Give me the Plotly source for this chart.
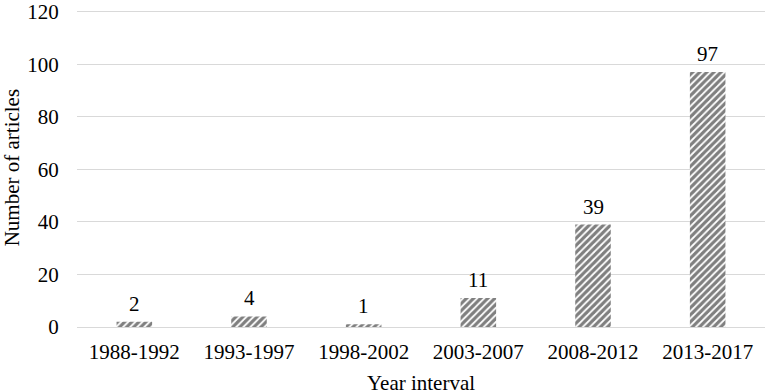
import plotly.graph_objects as go

categories = ["1988-1992", "1993-1997", "1998-2002", "2003-2007", "2008-2012", "2013-2017"]
articles = [2, 4, 1, 11, 39, 97]
y_ticks = [0, 20, 40, 60, 80, 100, 120]

FONT = "Liberation Serif, Times New Roman, serif"
FS = 21

fig = go.Figure()
fig.add_trace(go.Bar(
    x=categories,
    y=articles,
    width=0.31,
    marker=dict(
        color="white",
        line=dict(width=0),
        pattern=dict(shape="/", fgcolor="black", bgcolor="white", size=5, solidity=0.65),
    ),
))

annotations = [
    dict(x=c, y=v, xref="x", yref="y", text=str(v), showarrow=False,
         xanchor="center", yanchor="bottom", yshift=4,
         font=dict(family=FONT, size=FS, color="black"))
    for c, v in zip(categories, articles)
]
annotations += [
    dict(text="Number of articles", xref="paper", yref="paper", x=-0.094, y=0.5,
         xanchor="center", yanchor="middle", textangle=-90, showarrow=False,
         font=dict(family=FONT, size=FS, color="black")),
    dict(text="Year interval", xref="paper", yref="paper", x=0.5, y=0, yshift=-56,
         xanchor="center", yanchor="middle", showarrow=False,
         font=dict(family=FONT, size=FS, color="black")),
]

fig.update_layout(
    width=765, height=392,
    margin=dict(l=77, r=0, t=6, b=65),
    plot_bgcolor="white", paper_bgcolor="white",
    showlegend=False,
    font=dict(family=FONT, size=FS, color="black"),
    xaxis=dict(
        showline=False, ticks="outside", ticklen=6, tickcolor="rgba(0,0,0,0)",
        tickfont=dict(family=FONT, size=FS, color="black"),
    ),
    yaxis=dict(
        range=[0, 121], tickvals=y_ticks, showgrid=True, gridcolor="#d9d9d9", gridwidth=1,
        zeroline=True, zerolinecolor="#d9d9d9", zerolinewidth=1,
        ticks="outside", ticklen=13, tickcolor="rgba(0,0,0,0)",
        ticklabeloverflow="allow",
        tickfont=dict(family=FONT, size=FS, color="black"),
    ),
    annotations=annotations,
)

fig.write_html("out.html", config={"displayModeBar": False},
               post_script="document.body.style.margin='0px';")
